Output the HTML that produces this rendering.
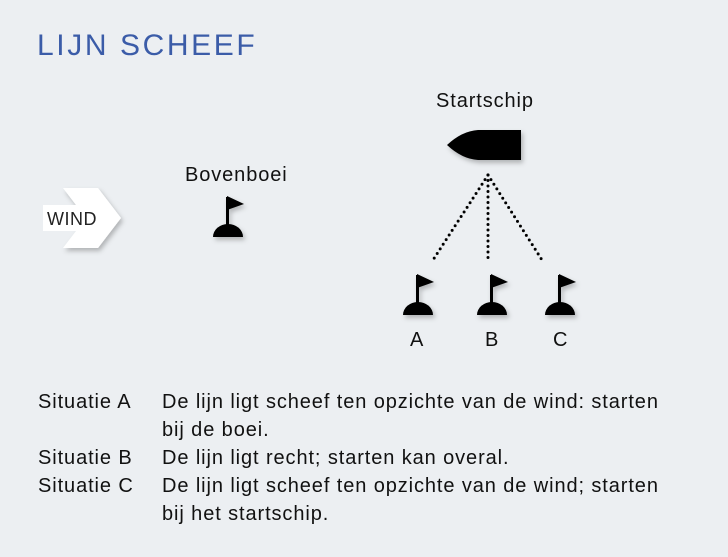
<!DOCTYPE html>
<html><head><style>
body{margin:0;width:728px;height:557px;background:#eceff2;font-family:"Liberation Sans",sans-serif;position:relative;overflow:hidden}
.t{position:absolute;white-space:nowrap;color:#111;letter-spacing:0.9px}
</style></head><body>
<div class="t" style="left:37px;top:29px;font-size:30px;color:#3b5ca8;letter-spacing:2.6px">LIJN SCHEEF</div>
<div class="t" style="left:436px;top:90px;font-size:20px">Startschip</div>
<div class="t" style="left:185px;top:164px;font-size:20px">Bovenboei</div>
<svg width="728" height="557" style="position:absolute;left:0;top:0">
<defs><filter id="s" x="-30%" y="-30%" width="160%" height="160%"><feDropShadow dx="2" dy="3" stdDeviation="2.5" flood-color="#000" flood-opacity="0.25"/></filter>
<g id="b"><path d="M-15 13 A15 13 0 0 1 15 13 Z"/><rect x="-2" y="-27" width="3" height="28"/><path d="M-1 -28 L16 -20 L-1 -14 Z"/></g></defs>
<path d="M63 188 L98 188 L121 218 L98 248 L63 248 L86 218 Z" fill="#fff" filter="url(#s)"/>
<rect x="43" y="205" width="57" height="26" fill="#fff"/>
<text x="47" y="225" font-size="18" fill="#222" font-family="Liberation Sans" letter-spacing="0.5">WIND</text>
<path d="M447 145 Q462 131 478 130 L521 130 L521 160 L478 160 Q462 159 447 145 Z" fill="#000" filter="url(#s)"/>
<g stroke="#000" stroke-width="3" stroke-linecap="round" stroke-dasharray="0 5.5">
<line x1="488" y1="175" x2="433" y2="260"/><line x1="488" y1="175" x2="488" y2="260"/><line x1="488" y1="175" x2="542" y2="260"/></g>
<g filter="url(#s)">
<use href="#b" x="228" y="224"/>
<use href="#b" x="418" y="302"/>
<use href="#b" x="492" y="302"/>
<use href="#b" x="560" y="302"/>
</g>
</svg>
<div class="t" style="left:410px;top:329px;font-size:20px">A</div>
<div class="t" style="left:485px;top:329px;font-size:20px">B</div>
<div class="t" style="left:553px;top:329px;font-size:20px">C</div>
<div class="t" style="left:38px;top:388px;font-size:20px;line-height:28px">Situatie A<br><br>Situatie B<br>Situatie C</div>
<div class="t" style="left:162px;top:388px;font-size:20px;line-height:28px">De lijn ligt scheef ten opzichte van de wind: starten<br>bij de boei.<br>De lijn ligt recht; starten kan overal.<br>De lijn ligt scheef ten opzichte van de wind; starten<br>bij het startschip.</div>
</body></html>
